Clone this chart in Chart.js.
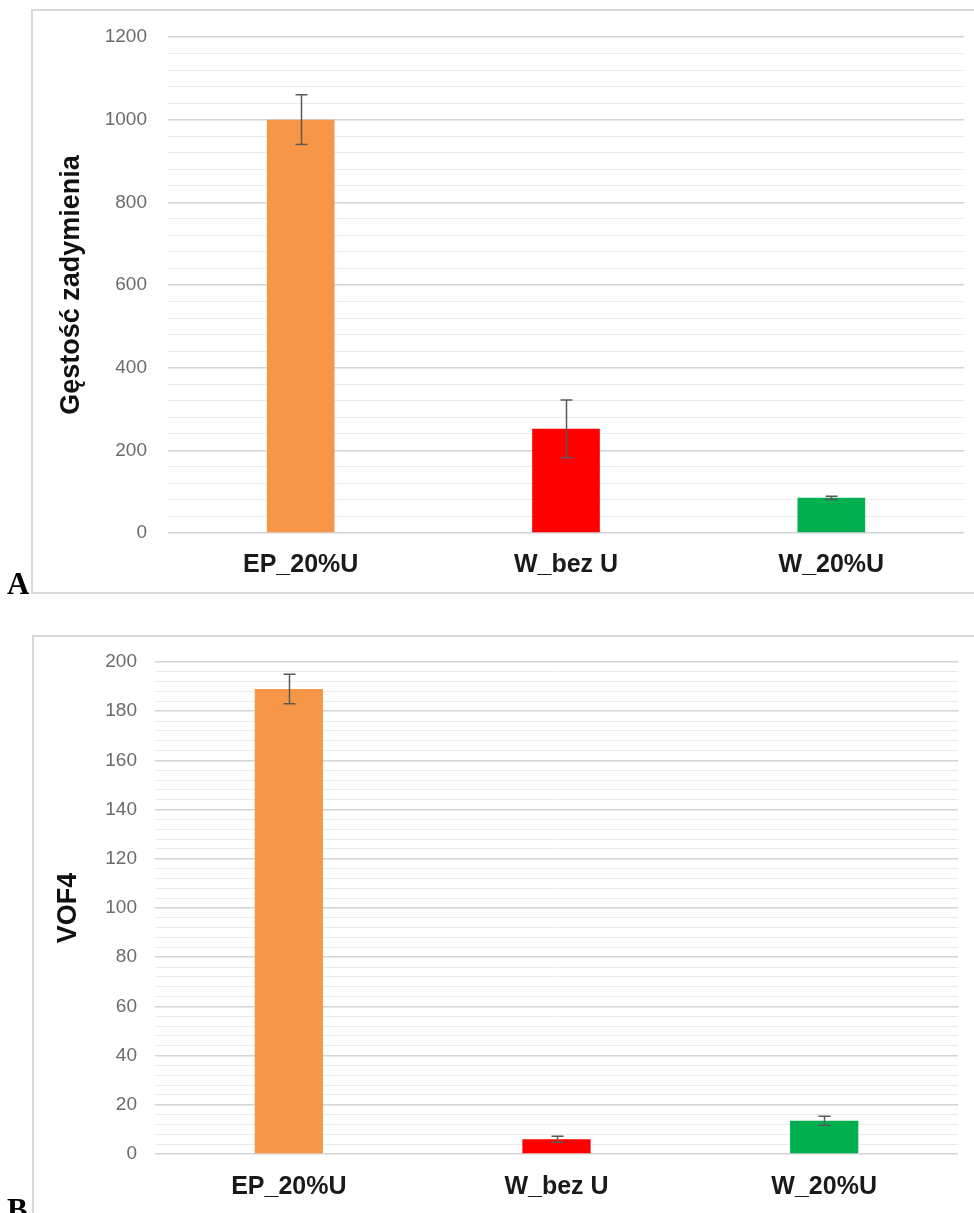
<!DOCTYPE html>
<html lang="pl">
<head>
    <meta charset="UTF-8">
    <title>Gęstość zadymienia / VOF4</title>
    <script src="https://cdn.jsdelivr.net/npm/chart.js"></script>
    <style>
        html, body {
            margin: 0;
            padding: 0;
            background: #fff;
            width: 974px;
            height: 1213px;
            overflow: hidden;
            position: relative;
        }
        .panel {
            position: absolute;
            border: 2px solid #d9d9d9;
            box-sizing: border-box;
        }
        .box {
            position: absolute;
            left: 0;
            width: 974px;
        }
        .letter {
            position: absolute;
            font-family: "Liberation Serif", "Times New Roman", serif;
            font-weight: bold;
            font-size: 31px;
            line-height: 1;
            color: #000;
        }
    </style>
</head>
<body>

    <div class="panel" style="left:31px; top:9px; width:960px; height:585px;"></div>
    <div class="panel" style="left:32px; top:635px; width:960px; height:600px;"></div>

    <div class="box" style="top:0; height:600px;"><canvas id="chartA"></canvas></div>
    <div class="box" style="top:630px; height:590px;"><canvas id="chartB"></canvas></div>

    <div class="letter" style="left:7px; top:568px;">A</div>
    <div class="letter" style="left:7px; top:1194px;">B</div>

    <script>
        const categories = ['EP_20%U', 'W_bez U', 'W_20%U'];

        // panel A
        const smokeDensity = [1000, 252, 85];
        const smokeDensityErr = [60, 70, 4];
        const smokeMax = 1200, smokeMajor = 200, smokeMinor = 40;

        // panel B
        const vof4 = [189, 6, 13.5];
        const vof4Err = [6, 1.2, 1.8];
        const vofMax = 200, vofMajor = 20, vofMinor = 4;

        const barColors = ['#F79646', '#FF0000', '#00B050'];

        // error bars drawn through the chart scales
        const errorBars = {
            id: 'errorBars',
            afterDatasetsDraw(chart, args, opts) {
                const ctx = chart.ctx;
                const y = chart.scales.y;
                const meta = chart.getDatasetMeta(0);
                const values = chart.data.datasets[0].data;
                ctx.save();
                ctx.strokeStyle = '#595959';
                ctx.lineWidth = 1.5;
                meta.data.forEach((bar, i) => {
                    const e = opts.values[i];
                    const top = y.getPixelForValue(values[i] + e);
                    const bot = y.getPixelForValue(values[i] - e);
                    const cx = Math.round(bar.x) + 0.5;
                    ctx.beginPath();
                    ctx.moveTo(cx, top);
                    ctx.lineTo(cx, bot);
                    ctx.moveTo(cx - 6, top);
                    ctx.lineTo(cx + 6, top);
                    ctx.moveTo(cx - 6, bot);
                    ctx.lineTo(cx + 6, bot);
                    ctx.stroke();
                });
                ctx.restore();
            }
        };

        function makeChart(id, values, errs, max, major, minor, title, pad, yWidth, tickPad, titlePad, xPad) {
            new Chart(document.getElementById(id), {
                type: 'bar',
                data: {
                    labels: categories,
                    datasets: [{
                        data: values,
                        backgroundColor: barColors,
                        borderWidth: 0,
                        categoryPercentage: 1,
                        barPercentage: 0.255
                    }]
                },
                options: {
                    responsive: true,
                    maintainAspectRatio: false,
                    animation: false,
                    layout: { padding: pad },
                    plugins: {
                        legend: { display: false },
                        tooltip: { enabled: false },
                        errorBars: { values: errs }
                    },
                    scales: {
                        x: {
                            grid: { display: false, drawTicks: false },
                            border: { display: false },
                            ticks: {
                                padding: xPad,
                                color: '#1a1a1a',
                                font: { family: 'Liberation Sans, Arial, sans-serif', size: 25, weight: 'bold' }
                            }
                        },
                        y: {
                            min: 0,
                            max: max,
                            border: { display: false },
                            grid: {
                                drawTicks: false,
                                color: c => (c.tick && c.tick.value % major === 0) ? '#d4d4d4' : '#ebebeb',
                                lineWidth: c => (c.tick && c.tick.value % major === 0) ? 1.5 : 1
                            },
                            ticks: {
                                stepSize: minor,
                                autoSkip: false,
                                padding: tickPad,
                                color: '#6b6b6b',
                                font: { family: 'Liberation Sans, Arial, sans-serif', size: 19 },
                                callback: v => (v % major === 0 ? String(v) : '')
                            },
                            title: {
                                display: true,
                                text: title,
                                color: '#111',
                                padding: { top: titlePad, bottom: 0 },
                                font: { family: 'Liberation Sans, Arial, sans-serif', size: 27, weight: 'bold' }
                            },
                            afterFit: s => { s.width = yWidth; }
                        }
                    }
                },
                plugins: [errorBars]
            });
        }

        makeChart('chartA', smokeDensity, smokeDensityErr, smokeMax, smokeMajor, smokeMinor,
            'Gęstość zadymienia', { top: 37, right: 10, bottom: 3, left: 0 }, 168, 21, 55, 17);
        makeChart('chartB', vof4, vof4Err, vofMax, vofMajor, vofMinor,
            'VOF4', { top: 32, right: 16, bottom: 0, left: 0 }, 155, 18, 52, 18);
    </script>

</body>
</html>
